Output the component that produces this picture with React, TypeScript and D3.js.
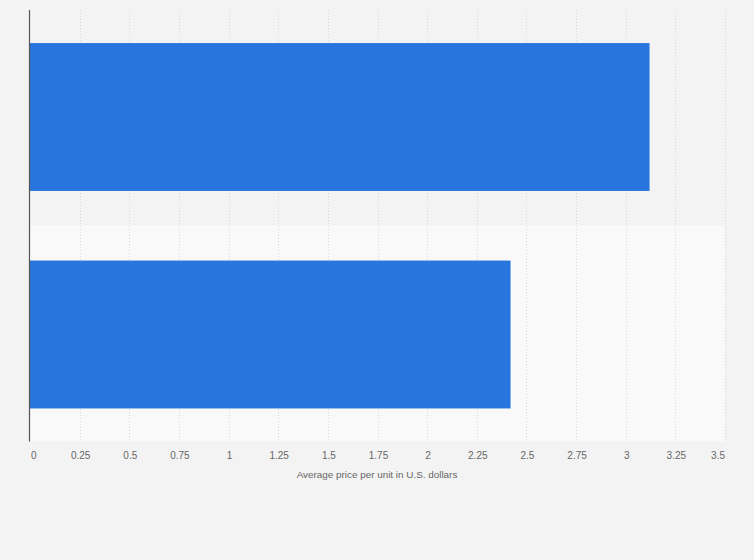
import React from "react";
import { scaleBand, scaleLinear } from "d3";

// two unlabeled categories, average price per unit (USD)
const categories = ["A", "B"];
const values = [3.12, 2.42];
const ticks = [0, 0.25, 0.5, 0.75, 1, 1.25, 1.5, 1.75, 2, 2.25, 2.5, 2.75, 3, 3.25, 3.5];
const tickLabels = ["0", "0.25", "0.5", "0.75", "1", "1.25", "1.5", "1.75", "2", "2.25", "2.5", "2.75", "3", "3.25", "3.5"];
const axisTitle = "Average price per unit in U.S. dollars";

const width = 754;
const height = 560;
const left = 30;
const right = 725;
const top = 10;
const bottom = 441.5;

function App() {
  const xScale = scaleLinear().domain([0, 3.5]).range([left, right]);
  const bandScale = scaleBand()
    .domain(categories)
    .range([top, bottom])
    .paddingInner(0)
    .paddingOuter(0);
  const yScale = scaleBand()
    .domain(categories)
    .range([top, bottom])
    .paddingInner(0.32)
    .paddingOuter(0.152);

  return (
    <svg
      width={width}
      height={height}
      style={{ position: "absolute", left: 0, top: 0, background: "#f3f3f3" }}
      fontFamily="'Liberation Sans', Arial, sans-serif"
    >
      <rect x={0} y={0} width={width} height={height} fill="#f3f3f3" />
      {/* alternating row bands */}
      {categories.map((c, i) => (
        <rect
          key={c}
          x={left}
          y={bandScale(c)}
          width={right - left}
          height={bandScale.bandwidth()}
          fill={i % 2 === 0 ? "#f3f3f3" : "#f9f9f9"}
        />
      ))}
      {/* grid lines */}
      {ticks.slice(1).map((t) => (
        <line
          key={t}
          x1={Math.round(xScale(t)) + 0.5}
          x2={Math.round(xScale(t)) + 0.5}
          y1={top}
          y2={bottom}
          stroke="#d8d8d8"
          strokeWidth={1}
          strokeDasharray="1,2"
        />
      ))}
      {/* bars */}
      {categories.map((c, i) => (
        <rect
          key={c}
          x={xScale(0)}
          y={yScale(c)}
          width={xScale(values[i]) - xScale(0)}
          height={yScale.bandwidth()}
          fill="#2876dd"
        />
      ))}
      {/* y axis line */}
      <line x1={29.5} x2={29.5} y1={top} y2={bottom} stroke="#555" strokeWidth={1.2} />
      {/* x tick labels */}
      {ticks.map((t, i) => {
        const last = i === ticks.length - 1;
        const first = i === 0;
        return (
          <text
            key={t}
            x={first ? xScale(t) + 1 : last ? xScale(t) : xScale(t) + 1}
            y={459}
            fontSize={10}
            fill="#666"
            textAnchor={first ? "start" : last ? "end" : "middle"}
          >
            {tickLabels[i]}
          </text>
        );
      })}
      <text x={377} y={478} fontSize={9.9} fill="#666" textAnchor="middle">
        {axisTitle}
      </text>
    </svg>
  );
}

export default App;
